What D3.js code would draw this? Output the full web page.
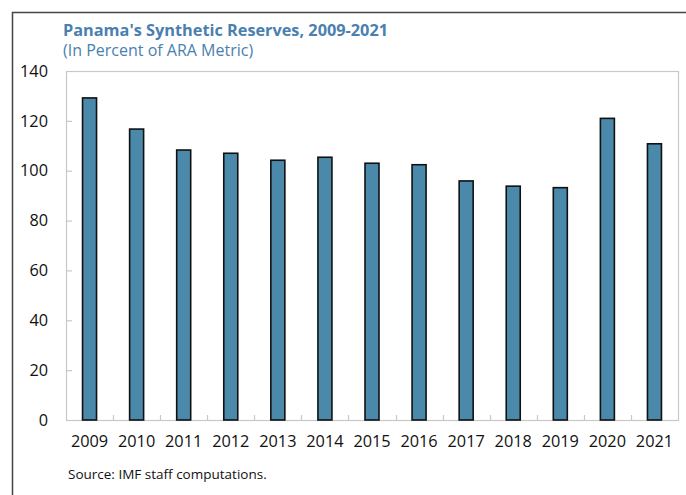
<!DOCTYPE html>
<html>
<head>
<meta charset="utf-8">
<script src="https://cdn.jsdelivr.net/npm/d3@7"></script>
<style>
  body { margin: 0; background: #fff; }
  text { font-family: "Open Sans", "Noto Sans", sans-serif; }
</style>
</head>
<body>
<svg id="chart" width="686" height="495"></svg>
<script>
// chart data
var years = ["2009", "2010", "2011", "2012", "2013", "2014", "2015",
             "2016", "2017", "2018", "2019", "2020", "2021"];
var reserves = [129.2, 116.7, 108.3, 107.0, 104.2, 105.4, 103.0,
                102.4, 95.9, 93.8, 93.2, 121.0, 110.8];
var yTicks = [0, 20, 40, 60, 80, 100, 120, 140];

var svg = d3.select("#chart");
var m = {left: 66, top: 71, right: 678, bottom: 420};

// outer frame (left + top only)
svg.append("path")
  .attr("d", "M12.5,495 L12.5,12.5 L686,12.5")
  .attr("fill", "none").attr("stroke", "#444").attr("stroke-width", 1.5);

svg.append("text").attr("x", 63).attr("y", 36)
  .attr("font-size", 16.3).attr("font-weight", "bold").attr("fill", "#4a7fb0")
  .text("Panama's Synthetic Reserves, 2009-2021");
svg.append("text").attr("x", 63).attr("y", 56)
  .attr("font-size", 16).attr("fill", "#4a7fb0")
  .text("(In Percent of ARA Metric)");

var x = d3.scaleBand().domain(years).range([m.left, m.right]);
var y = d3.scaleLinear().domain([0, 140]).range([m.bottom, m.top]);

// plot area border
svg.append("rect")
  .attr("x", m.left + 0.5).attr("y", m.top + 0.5)
  .attr("width", m.right - m.left).attr("height", m.bottom - m.top)
  .attr("fill", "none").attr("stroke", "#c8c8c8").attr("stroke-width", 1.2);

// y ticks (inward) and labels
svg.selectAll(".ytick").data(yTicks.slice(1, -1)).enter().append("line")
  .attr("x1", m.left).attr("x2", m.left + 6)
  .attr("y1", function(d) { return y(d) + 0.5; })
  .attr("y2", function(d) { return y(d) + 0.5; })
  .attr("stroke", "#c8c8c8").attr("stroke-width", 1.2);
svg.selectAll(".ylab").data(yTicks).enter().append("text")
  .attr("x", 48).attr("y", function(d) { return y(d); })
  .attr("dy", "0.35em").attr("text-anchor", "end")
  .attr("font-size", 16.3).attr("fill", "#111")
  .text(function(d) { return d; });

// x ticks at category boundaries
var bounds = years.slice(1).map(function(d) { return x(d); });
svg.selectAll(".xtick").data(bounds).enter().append("line")
  .attr("x1", function(d) { return Math.round(d) + 0.5; })
  .attr("x2", function(d) { return Math.round(d) + 0.5; })
  .attr("y1", m.bottom).attr("y2", m.bottom - 5)
  .attr("stroke", "#c8c8c8").attr("stroke-width", 1.2);

// bars
var bw = 14;
svg.selectAll(".bar").data(reserves).enter().append("rect")
  .attr("x", function(d, i) { return x(years[i]) + x.bandwidth() / 2 - bw / 2; })
  .attr("y", function(d) { return y(d); })
  .attr("width", bw)
  .attr("height", function(d) { return y(0) - y(d); })
  .attr("fill", "#4a89aa").attr("stroke", "#111").attr("stroke-width", 1.6);

// x labels
svg.selectAll(".xlab").data(years).enter().append("text")
  .attr("x", function(d) { return x(d) + x.bandwidth() / 2; })
  .attr("y", 447).attr("text-anchor", "middle")
  .attr("font-size", 16.3).attr("fill", "#111")
  .text(function(d) { return d; });

svg.append("text").attr("x", 68).attr("y", 479)
  .attr("font-size", 13.5).attr("fill", "#111")
  .text("Source: IMF staff computations.");
</script>
</body>
</html>
